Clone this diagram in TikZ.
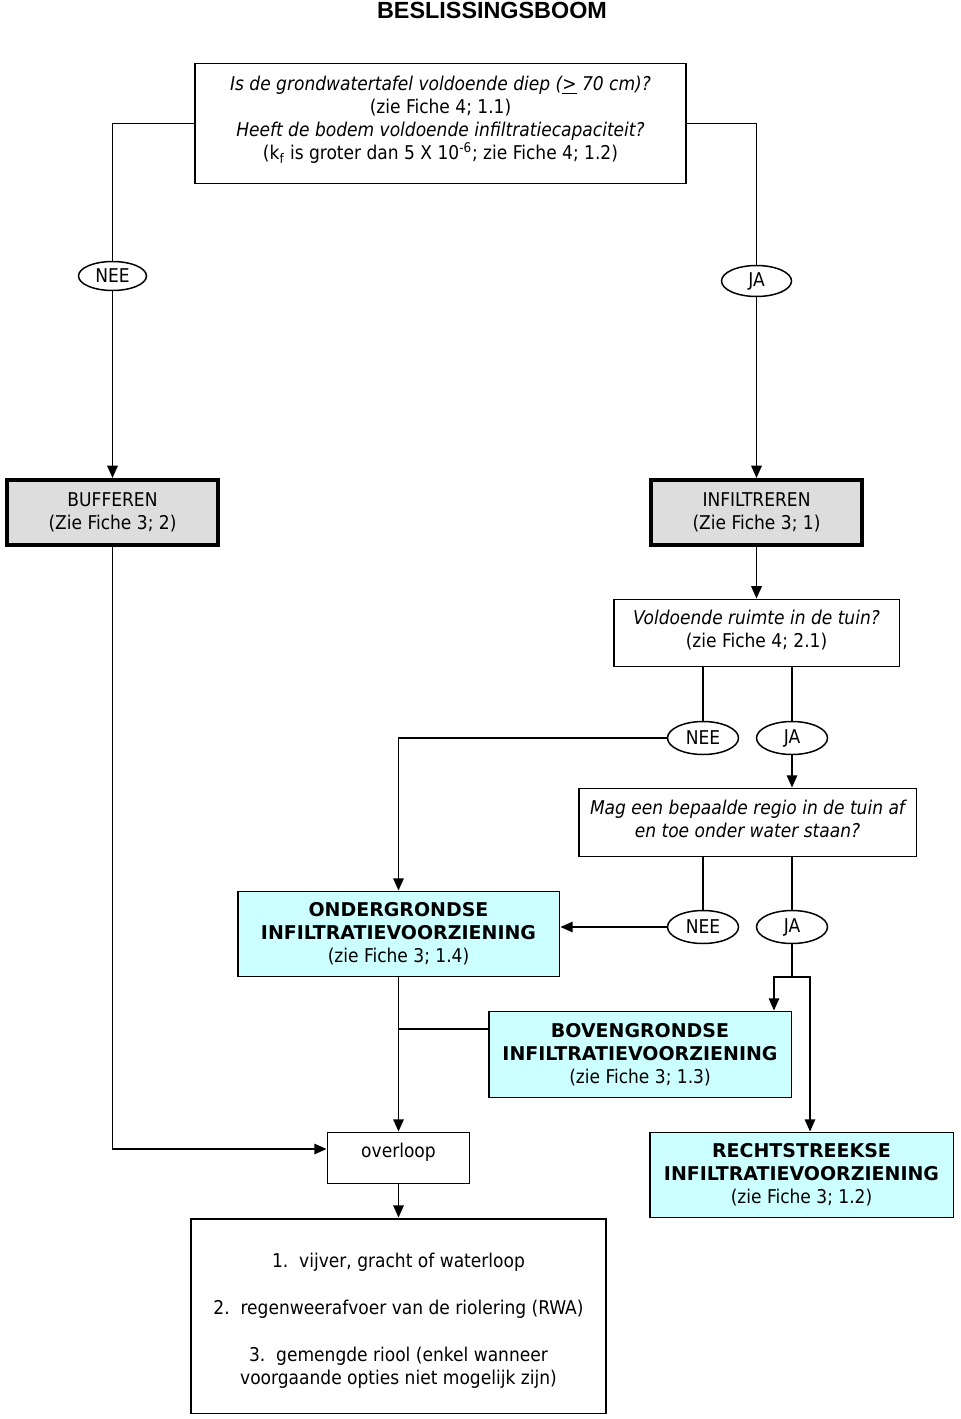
\documentclass[tikz,border=0pt]{standalone}
\usepackage{fontspec}
\setmainfont{DejaVu Sans Condensed}[BoldFont={DejaVu Sans Bold}]
\newfontfamily\titelfont{Liberation Sans}
\usetikzlibrary{arrows.meta,shapes.geometric}
\definecolor{grijs}{HTML}{DDDDDD}
\definecolor{lichtblauw}{HTML}{CCFFFF}

\begin{document}
\begin{tikzpicture}[x=0.02cm,y=-0.02cm,
      line width=0.85pt,>={Triangle[length=7pt,width=6pt]},
      every node/.style={font=\fontsize{10.8}{13.1}\selectfont,align=center},
      vraag node/.style={rectangle,draw,line width=1.1pt,fill=white,inner sep=0pt},
      keuze node/.style={ellipse,draw,line width=0.85pt,inner sep=0pt,minimum width=1.42cm,minimum height=0.66cm},
      actie node/.style={rectangle,draw,line width=2.3pt,fill=grijs,inner sep=0pt,minimum width=4.22cm,minimum height=1.3cm},
      oplossing node/.style={rectangle,draw,line width=1.1pt,fill=lichtblauw,inner sep=0pt}]

      \useasboundingbox (0,0) rectangle (960,1419);

      \node[font=\titelfont\fontsize{13.3}{15}\selectfont\bfseries] (titel) at (492,10) {BESLISSINGSBOOM};

      % vragen
      \node[vraag node,minimum width=9.84cm,minimum height=2.4cm] (vraag1) at (440.5,123.5)
        {\itshape Is de grondwatertafel voldoende diep (\underline{>} 70 cm)?\\
         (zie Fiche 4; 1.1)\\
         \itshape Heeft de bodem voldoende infiltratiecapaciteit?\\
         (k\textsubscript{f} is groter dan 5 X 10\textsuperscript{-6}; zie Fiche 4; 1.2)\rule[-6pt]{0pt}{0pt}};
      \node[vraag node,minimum width=5.72cm,minimum height=1.34cm] (vraag2) at (756.5,633)
        {\itshape Voldoende ruimte in de tuin?\\ (zie Fiche 4; 2.1)\rule[-4.5pt]{0pt}{0pt}};
      \node[vraag node,minimum width=6.76cm,minimum height=1.36cm] (vraag3) at (747.5,822.5)
        {\itshape Mag een bepaalde regio in de tuin af\\ \itshape en toe onder water staan?\rule[-4.5pt]{0pt}{0pt}};

      % keuzes
      \node[keuze node,minimum width=1.36cm,minimum height=0.58cm] (nee1) at (112.5,276) {NEE};
      \node[keuze node,minimum width=1.4cm,minimum height=0.62cm] (ja1) at (756.5,281) {JA};
      \node[keuze node] (nee2) at (703,738) {NEE};
      \node[keuze node] (ja2) at (792,738) {JA};
      \node[keuze node] (nee3) at (703,927) {NEE};
      \node[keuze node] (ja3) at (792,927) {JA};

      % acties
      \node[actie node] (bufferen) at (112.5,512.5) {BUFFEREN\\ (Zie Fiche 3; 2)};
      \node[actie node] (infiltreren) at (756.5,512.5) {INFILTREREN\\ (Zie Fiche 3; 1)};

      % voorzieningen
      \node[oplossing node,minimum width=6.44cm,minimum height=1.7cm] (onder) at (398.5,934)
        {\bfseries ONDERGRONDSE\\ \bfseries INFILTRATIEVOORZIENING\\ (zie Fiche 3; 1.4)};
      \node[oplossing node,minimum width=6.06cm,minimum height=1.72cm] (boven) at (640,1054.5)
        {\bfseries BOVENGRONDSE\\ \bfseries INFILTRATIEVOORZIENING\\ (zie Fiche 3; 1.3)};
      \node[oplossing node,minimum width=6.08cm,minimum height=1.7cm] (recht) at (801.5,1175)
        {\bfseries RECHTSTREEKSE\\ \bfseries INFILTRATIEVOORZIENING\\ (zie Fiche 3; 1.2)};

      % afvoer
      \node[vraag node,minimum width=2.84cm,minimum height=1.02cm,text depth=0.3cm] (overloop) at (398.5,1158) {overloop};
      \node[vraag node,minimum width=8.3cm,minimum height=3.9cm] (lijst) at (398.5,1316)
        {\rule{0pt}{14pt}1.\ \ vijver, gracht of waterloop\\[13.6pt]
         2.\ \ regenweerafvoer van de riolering (RWA)\\[13.6pt]
         3.\ \ gemengde riool (enkel wanneer\\
         voorgaande opties niet mogelijk zijn)};

      \coordinate (splitL) at (774,977);
      \coordinate (splitR) at (810,977);

      \draw (vraag1.west) -| (nee1.north);
      \draw (vraag1.east) -| (ja1.north);
      \draw[->] (nee1.south) -- (bufferen.north);
      \draw[->] (ja1.south) -- (infiltreren.north);
      \draw[->] (infiltreren.south) -- (vraag2.north);
      \draw (vraag2.south -| nee2) -- (nee2.north);
      \draw (vraag2.south -| ja2) -- (ja2.north);
      \draw[->] (nee2.west) -| (onder.north);
      \draw[->] (ja2.south) -- (vraag3.north -| ja2);
      \draw (vraag3.south -| nee3) -- (nee3.north);
      \draw (vraag3.south -| ja3) -- (ja3.north);
      \draw[->] (nee3.west) -- (nee3 -| onder.east);
      \draw[->] (ja3.south) |- (splitL) -- (splitL |- boven.north);
      \draw[->] (splitL -| ja3) -- (splitR) -- (splitR |- recht.north);
      \draw[->] (onder.south) -- (overloop.north);
      \draw ([yshift=0.51cm]boven.west) -| (onder.south);
      \draw[->] (bufferen.south) |- ([yshift=0.18cm]overloop.west);
      \draw[->] (overloop.south) -- (lijst.north);
    \end{tikzpicture}
\end{document}
